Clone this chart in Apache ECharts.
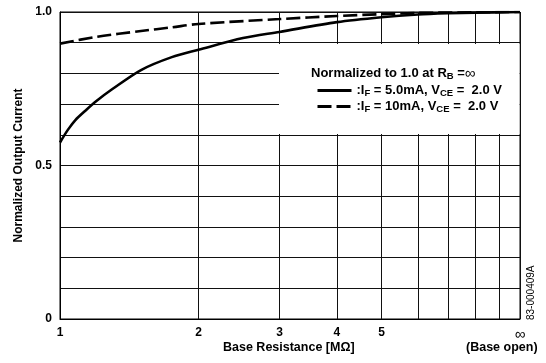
<!DOCTYPE html>
<html>
<head>
<meta charset="utf-8">
<script src="https://cdn.jsdelivr.net/npm/echarts@6/dist/echarts.min.js"></script>
<style>
  html, body { margin: 0; padding: 0; background: #fff; }
  #chart { width: 546px; height: 363px; }
</style>
</head>
<body>
<div id="chart"></div>
<script>
// base resistance [MOhm] -> normalized output current
const rSolid = [1, 1.04, 1.08, 1.14, 1.2, 1.3, 1.5, 1.75, 2, 2.5, 3, 4, 5, 6, 7, 8, 10]
const iSolid = [0.575, 0.616, 0.648, 0.681, 0.710, 0.749, 0.811, 0.853, 0.877, 0.915, 0.935, 0.967, 0.983, 0.992, 0.996, 0.998, 1.0]
const rDash = [1, 1.2, 1.5, 1.75, 2, 3, 4, 5, 6, 8, 10]
const iDash = [0.897, 0.919, 0.938, 0.950, 0.961, 0.977, 0.987, 0.993, 0.997, 0.999, 1.0]

const xGrid = [1, 2, 3, 4, 5, 6, 7, 8, 9, 10]
const xLabels = [1, 2, 3, 4, 5, 10]
const yLabels = { 0: '0', 0.5: '0.5', 1: '1.0' }

const solidName = '5mA'
const dashName = '10mA'

const font = '"Liberation Sans", Arial, sans-serif'
const pairs = (xs, ys) => xs.map((x, i) => [x, ys[i]])

const chart = echarts.init(document.getElementById('chart'))
chart.setOption({
  animation: false,
  backgroundColor: '#fff',
  grid: { left: 60, right: 26, top: 12, bottom: 44, show: true, borderColor: '#000', borderWidth: 1 },
  xAxis: {
    type: 'log',
    logBase: 10,
    min: 1,
    max: 10,
    axisLine: { lineStyle: { color: '#000', width: 1 } },
    axisTick: { show: false, customValues: xGrid },
    axisLabel: {
      customValues: xLabels,
      margin: 8,
      color: '#000',
      fontFamily: font,
      fontWeight: 'bold',
      fontSize: 12,
      formatter: v => (v === 10 ? '{inf|∞}' : String(v)),
      rich: { inf: { fontSize: 15, fontWeight: 'normal', color: '#000', fontFamily: font } }
    },
    splitLine: { show: true, lineStyle: { color: '#111', width: 1 } }
  },
  yAxis: {
    type: 'value',
    min: 0,
    max: 1,
    interval: 0.1,
    name: 'Normalized Output Current',
    nameLocation: 'middle',
    nameGap: 34,
    nameTextStyle: { color: '#000', fontFamily: font, fontWeight: 'bold', fontSize: 12 },
    axisLine: { show: true, lineStyle: { color: '#000', width: 1 } },
    axisTick: { show: false },
    axisLabel: {
      margin: 8,
      color: '#000',
      fontFamily: font,
      fontWeight: 'bold',
      fontSize: 12,
      formatter: v => {
        const k = Math.round(v * 10) / 10
        return yLabels[k] !== undefined ? yLabels[k] : ''
      }
    },
    splitLine: { show: true, lineStyle: { color: '#111', width: 1 } }
  },
  legend: {
    orient: 'vertical',
    left: 311,
    top: 79,
    z: 10,
    itemWidth: 34,
    itemHeight: 10,
    itemGap: 2,
    data: [solidName, dashName],
    itemStyle: { opacity: 0 },
    lineStyle: { width: 3 },
    formatter: name => name === solidName
      ? '{a|:I}{s|F}{a| = 5.0mA, V}{s|CE}{a| =  2.0 V}'
      : '{a|:I}{s|F}{a| = 10mA, V}{s|CE}{a| =  2.0 V}',
    textStyle: {
      rich: {
        a: { fontFamily: font, fontWeight: 'bold', fontSize: 13, color: '#000', lineHeight: 15, verticalAlign: 'middle' },
        s: { fontFamily: font, fontWeight: 'bold', fontSize: 9.5, color: '#000', lineHeight: 8, verticalAlign: 'bottom' }
      }
    }
  },
  graphic: [
    { type: 'rect', z: 3, shape: { x: 279, y: 44, width: 240.5, height: 90 }, style: { fill: '#fff' } },
    {
      type: 'text', z: 11, left: 311, top: 66,
      style: {
        text: '{a|Normalized to 1.0 at R}{s|B}{a| =}{i|∞}',
        rich: {
          a: { fontFamily: font, fontWeight: 'bold', fontSize: 13, fill: '#000', lineHeight: 15, verticalAlign: 'middle' },
          s: { fontFamily: font, fontWeight: 'bold', fontSize: 9.5, fill: '#000', lineHeight: 8, verticalAlign: 'bottom' },
          i: { fontFamily: font, fontSize: 15, fill: '#000', lineHeight: 15, verticalAlign: 'middle' }
        }
      }
    },
    {
      type: 'text', left: 223, top: 341, z: 11,
      style: { text: 'Base Resistance [MΩ]', font: 'bold 12.5px ' + font, fill: '#000' }
    },
    {
      type: 'text', left: 466, top: 341, z: 11,
      style: { text: '(Base open)', font: 'bold 12.5px ' + font, fill: '#000' }
    },
    {
      type: 'text', z: 11, x: 526, y: 320, rotation: Math.PI / 2,
      style: { text: '83-000409A', font: '10px ' + font, fill: '#000' }
    }
  ],
  series: [
    {
      name: solidName,
      type: 'line',
      smooth: 0.3,
      symbol: 'none',
      z: 5,
      itemStyle: { color: '#000' },
      lineStyle: { color: '#000', width: 2.6 },
      data: pairs(rSolid, iSolid)
    },
    {
      name: dashName,
      type: 'line',
      smooth: 0.3,
      symbol: 'none',
      z: 5,
      itemStyle: { color: '#000' },
      lineStyle: { color: '#000', width: 2.6, type: [14, 5] },
      data: pairs(rDash, iDash)
    }
  ]
})
</script>
</body>
</html>
